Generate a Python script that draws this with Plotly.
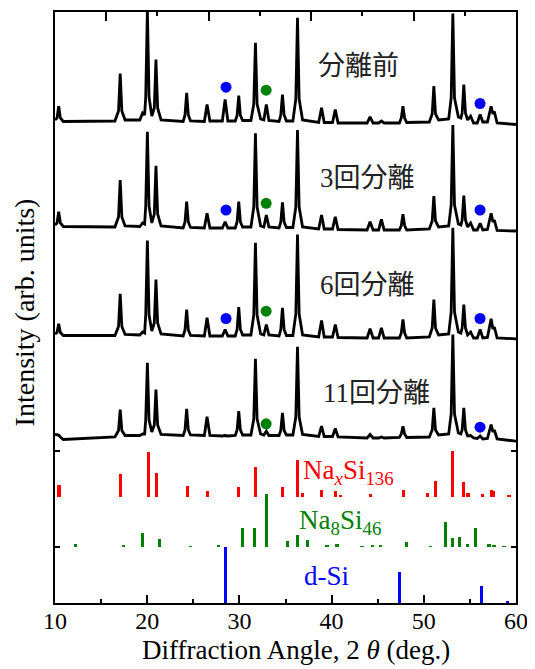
import plotly.graph_objects as go

# ---------------- data ----------------
two_theta = [
    10.0, 10.22, 10.4, 10.58, 10.9,
    16.5, 16.89, 17.07, 17.25, 17.6,
    19.2, 19.5, 19.72, 19.84, 20.02, 20.2, 20.5,
    20.77, 20.95, 21.13, 21.5,
    23.9, 24.10, 24.28, 24.46, 24.7,
    26.2, 26.49, 26.8,
    28.15, 28.45, 28.75,
    29.55, 29.75, 29.93, 30.11, 30.35,
    31.25, 31.56, 31.74, 31.92, 32.3,
    32.65, 32.92, 33.2,
    34.3, 34.49, 34.67, 34.85, 35.1,
    35.8, 36.12, 36.30, 36.48, 36.85,
    38.6, 38.91, 39.2,
    40.1, 40.4, 40.7,
    43.85, 44.17, 44.5,
    45.1, 45.4, 45.7,
    47.35, 47.56, 47.74, 47.92, 48.15,
    50.6, 50.91, 51.09, 51.27, 51.6,
    52.7, 52.97, 53.15, 53.33, 53.75,
    54.02, 54.16, 54.34, 54.52, 54.75,
    55.08, 55.4,
    55.8, 56.11, 56.4,
    56.9, 57.3, 57.5, 57.65, 57.95,
    60.0,
]

int_before = [
    3, 5, 16.8, 5, 1.5,
    2, 12, 49.5, 12, 3,
    3, 10, 8, 26, 113, 26, 7,
    15, 63.5, 15, 3,
    1.5, 8, 30.2, 8, 2,
    1.5, 18.5, 2,
    2, 23.5, 2,
    2, 7.5, 27.5, 7.5, 2.5,
    2.5, 19, 80.2, 19, 4,
    3, 18.5, 2.5,
    1.5, 8, 28.5, 8, 2,
    2, 24, 105.2, 24, 3,
    0.5, 15.2, 0.5,
    0.5, 13.5, 0,
    0, 6.2, 0,
    0, 2, 0,
    0, 5, 16.8, 5, 0.5,
    1, 9, 36.8, 9, 3,
    4, 25, 109.5, 25, 6,
    5, 10, 38.5, 10, 3,
    6.8, 0,
    0, 8.5, 1,
    1, 16.8, 9, 11.5, 0,
    -1.5,
]

int_3 = [
    4, 6, 17.3, 6, 2.5,
    2, 12, 49, 12, 3,
    2.5, 6, 5, 23, 97.3, 23, 6,
    15, 63.3, 15, 3,
    1, 7, 27.3, 7, 1.5,
    1, 15.7, 1,
    1, 7.3, 1,
    1, 7, 27.3, 7, 2,
    2, 22, 95.7, 22, 3,
    2, 14, 2,
    1, 7, 26.7, 7, 1.5,
    1.5, 22, 99, 22, 2,
    0, 14, 0,
    0, 12.3, -0.5,
    -1, 7.3, -1,
    -1, 9.7, -1,
    -1, 3.5, 14.7, 3.5, -1,
    0, 8, 33, 8, 2,
    3, 24, 104, 24, 5,
    4, 9, 33.3, 9, 2,
    6, -1,
    -1, 5.7, -1,
    -0.5, 15.7, 7, 9, -1.5,
    -2,
]

int_6 = [
    3, 4.5, 13.2, 4.5, 1.5,
    1.5, 10.5, 43.2, 10.5, 2.5,
    2, 5, 4, 22, 96.5, 22, 6,
    14, 57.5, 14, 3,
    1, 7, 27.5, 7, 1.5,
    1, 19.2, 1,
    1, 7.5, 1,
    1, 7.5, 29.8, 7.5, 2,
    2, 22, 94.2, 22, 3,
    2, 12.5, 2,
    1, 7.5, 29.2, 7.5, 1.5,
    1.5, 23, 102.5, 23, 2,
    0, 16.5, 0,
    0, 12.5, -0.5,
    -1, 8.2, -1,
    -1, 9.2, -1,
    -1, 4, 17.5, 4, -1,
    0, 9, 37.5, 9, 2,
    3, 25, 109.2, 25, 5,
    4, 9, 32.5, 9, 2,
    5, -1,
    -1, 7.5, -1,
    -0.5, 18.2, 8, 10, -1,
    -1.8,
]

int_11 = [
    2.5, 2.5, 2, 0, -2.5,
    0, 6.5, 27.5, 6.5, 1.5,
    1.5, 3, 3, 17, 74.2, 17, 5,
    12, 47.5, 12, 2.5,
    1.5, 7, 28.2, 7, 2,
    1.5, 20.2, 1.5,
    1, 1.5, 1,
    1.5, 7, 25.8, 7, 2,
    2, 18, 78.2, 18, 3,
    2, 5.8, 1.5,
    1.5, 6.5, 24.2, 6.5, 2,
    2, 20, 90.2, 20, 2.5,
    0.5, 10.8, 0.5,
    0.5, 8.5, 0,
    -1, 2.5, -1,
    -1, 0, -1,
    -0.5, 3, 10.8, 3, -0.5,
    0, 7, 29.2, 7, 2,
    3, 23, 102.5, 23, 4,
    3, 7, 29.2, 7, 1,
    1.5, -1,
    -1.5, 1, -2,
    -1.5, 12.5, 5, 7, -2,
    -4.2,
]

sample_labels = ["分離前", "3回分離", "6回分離", "11回分離"]

# marker (peak identification) positions and heights above each pattern
si_mark_x = [[28.55, 56.1], [28.55, 56.1], [28.55, 56.1], [56.1]]
si_mark_h = [[35.8, 19.5], [19, 19], [18.5, 18.5], [9.8]]
na8_mark_x = [[32.9], [32.9], [32.9], [32.9]]
na8_mark_h = [[32.8], [25.7], [25.8], [13.2]]

# reference stick patterns
naxsi136_pos = [10.43, 17.14, 20.11, 21.02, 24.35, 26.56, 29.93, 31.78, 34.68, 36.30,
                36.85, 38.95, 40.40, 40.95, 44.21, 47.76, 50.37, 51.27, 53.15, 54.35,
                54.8, 56.41, 57.36, 57.6, 59.24]
naxsi136_int = [11.7, 23.3, 45, 24, 10.7, 6.3, 10.3, 30.3, 10, 36.7,
                4, 7.3, 6.3, 2.3, 3.3, 7.3, 4, 16.3, 45.7, 14.7,
                4, 3, 7.3, 5.7, 1.3]
na8si46_pos = [12.26, 17.39, 19.46, 21.3, 24.71, 27.72, 30.37, 31.63, 32.9, 35.26,
               36.3, 37.43, 39.5, 40.59, 43.3, 44.39, 45.29, 48.12, 50.73, 52.36,
               53.15, 53.91, 54.78, 55.62, 57.07, 57.61, 58.7]
na8si46_int = [3.3, 2.3, 14, 8.3, 1, 1.3, 19, 19, 53.3, 6.3,
               11.7, 7.3, 2.3, 3.3, 1, 1.3, 1.3, 4.7, 1, 24.7,
               9, 9.7, 3.3, 19, 3, 2.3, 1]
si_pos = [28.52, 47.39, 56.22, 59.06]
si_int = [56, 31, 17.3, 2]

# ---------------- layout constants ----------------
offsets = [480, 374, 266, 166]
stick_base = {"red": 106, "green": 56, "blue": 0}
RED, GREEN, BLUE = "#FF0000", "#008000", "#0000FF"
SERIF = "Liberation Serif"
MIXED = "Liberation Serif, Noto Sans CJK JP"

fig = go.Figure()

patterns = [int_before, int_3, int_6, int_11]
for k, (ints, off) in enumerate(zip(patterns, offsets)):
    fig.add_trace(go.Scatter(
        x=two_theta, y=[v + off for v in ints], mode="lines",
        line=dict(color="black", width=2.8),
        showlegend=False, hoverinfo="skip",
    ))
    fig.add_trace(go.Scatter(
        x=si_mark_x[k], y=[h + off for h in si_mark_h[k]], mode="markers",
        marker=dict(color=BLUE, size=11), showlegend=False))
    fig.add_trace(go.Scatter(
        x=na8_mark_x[k], y=[h + off for h in na8_mark_h[k]], mode="markers",
        marker=dict(color=GREEN, size=11), showlegend=False))

for pos, ints, col, base in [
    (naxsi136_pos, naxsi136_int, RED, stick_base["red"]),
    (na8si46_pos, na8si46_int, GREEN, stick_base["green"]),
    (si_pos, si_int, BLUE, stick_base["blue"]),
]:
    fig.add_trace(go.Bar(x=pos, y=ints, base=base, width=0.34,
                         marker=dict(color=col, line=dict(width=0)),
                         showlegend=False))

# dummy trace for the top axis
fig.add_trace(go.Scatter(x=[0, 9], y=[None, None], xaxis="x2", yaxis="y",
                         mode="lines", showlegend=False, hoverinfo="skip"))

label_y = [536.6, 425, 318.3, 210]
label_x = [38.3, 38.55, 38.55, 38.8]
annotations = []
for txt, lx, ly in zip(sample_labels, label_x, label_y):
    annotations.append(dict(x=lx, y=ly, xref="x", yref="y", text=txt, showarrow=False,
                            xanchor="left", yanchor="middle",
                            font=dict(family=MIXED, size=27, color="#222222")))

annotations += [
    dict(x=36.7, y=131, xref="x", yref="y", text="Na<sub><i>x</i></sub>Si<sub>136</sub>",
         showarrow=False, xanchor="left", yanchor="middle",
         font=dict(family=SERIF, size=27, color=RED)),
    dict(x=36.25, y=81, xref="x", yref="y", text="Na<sub>8</sub>Si<sub>46</sub>",
         showarrow=False, xanchor="left", yanchor="middle",
         font=dict(family=SERIF, size=27, color=GREEN)),
    dict(x=36.8, y=27, xref="x", yref="y", text="d-Si",
         showarrow=False, xanchor="left", yanchor="middle",
         font=dict(family=SERIF, size=27, color=BLUE)),
    dict(x=0.523, y=-0.079, xref="paper", yref="paper",
         text="Diffraction Angle, 2 <i>θ</i> (deg.)", showarrow=False,
         xanchor="center", yanchor="middle",
         font=dict(family=SERIF, size=27, color="black")),
    dict(x=-0.066, y=0.491, xref="paper", yref="paper",
         text="Intensity (arb. units)", showarrow=False, textangle=-90,
         xanchor="center", yanchor="middle",
         font=dict(family=SERIF, size=28, color="black")),
]

# the page puts the figure 8 px in from the top-left corner
fig.update_layout(
    width=527, height=661,
    margin=dict(l=47, r=19, t=4, b=66),
    paper_bgcolor="white", plot_bgcolor="white",
    barmode="overlay", bargap=0,
    showlegend=False,
    font=dict(family=SERIF, size=24, color="black"),
    annotations=annotations,
    xaxis=dict(
        range=[10, 60], tickvals=[10, 20, 30, 40, 50, 60],
        ticks="inside", ticklen=8, tickwidth=2, tickcolor="black",
        minor=dict(tickvals=[15, 25, 35, 45, 55], ticks="inside", ticklen=4,
                   tickwidth=2, tickcolor="black"),
        showline=True, linewidth=2, linecolor="black", mirror=False,
        showgrid=False, zeroline=False, ticklabelstandoff=-5,
        tickfont=dict(family=SERIF, size=24, color="black"),
    ),
    xaxis2=dict(
        range=[0, 9], overlaying="x", side="top", anchor="y",
        tickvals=[1, 3, 5, 7], ticks="inside", ticklen=9, tickwidth=2,
        tickcolor="black",
        minor=dict(tickvals=[2, 4, 6, 8], ticks="inside", ticklen=4,
                   tickwidth=2, tickcolor="black"),
        showticklabels=False, showline=True, linewidth=2, linecolor="black",
        showgrid=False, zeroline=False,
    ),
    yaxis=dict(
        range=[0, 591], tickvals=[55.6, 151.6], ticks="inside", ticklen=5,
        tickwidth=2, tickcolor="black", showticklabels=False,
        showline=True, linewidth=2, linecolor="black", mirror="ticks",
        showgrid=False, zeroline=False,
    ),
)

fig.write_html("out.html")
